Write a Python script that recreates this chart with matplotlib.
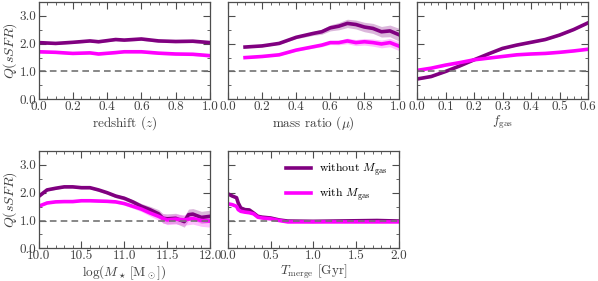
import numpy as np
import matplotlib
matplotlib.use("Agg")
import matplotlib.pyplot as plt
from matplotlib.ticker import MultipleLocator

plt.rcParams['font.family'] = 'serif'
plt.rcParams['font.serif'] = ['cmr10', 'DejaVu Serif']
plt.rcParams['mathtext.fontset'] = 'cm'
plt.rcParams['axes.formatter.use_mathtext'] = True
plt.rcParams['axes.unicode_minus'] = False

# ---------------- data ----------------
z_x = [0.0, 0.1, 0.2, 0.3, 0.35, 0.45, 0.5, 0.6, 0.7, 0.8, 0.9, 1.0]
z_without = [2.04, 2.01, 2.05, 2.10, 2.07, 2.15, 2.13, 2.17, 2.10, 2.08, 2.09, 2.04]
z_with = [1.71, 1.69, 1.65, 1.67, 1.63, 1.68, 1.71, 1.71, 1.66, 1.63, 1.62, 1.57]
z_err_without = [0.06, 0.04, 0.04, 0.04, 0.04, 0.04, 0.04, 0.05, 0.05, 0.05, 0.05, 0.06]
z_err_with = [0.06, 0.04, 0.04, 0.04, 0.04, 0.04, 0.04, 0.05, 0.05, 0.05, 0.05, 0.06]

mu_x = [0.1, 0.2, 0.3, 0.4, 0.5, 0.55, 0.6, 0.65, 0.7, 0.75, 0.8, 0.85, 0.9, 0.95, 1.0]
mu_without = [1.88, 1.92, 2.01, 2.23, 2.37, 2.43, 2.57, 2.63, 2.73, 2.69, 2.60, 2.55, 2.43, 2.46, 2.33]
mu_with = [1.50, 1.54, 1.60, 1.77, 1.89, 1.95, 2.04, 2.04, 2.10, 2.04, 2.07, 2.04, 1.99, 2.04, 1.92]
mu_err_without = [0.03, 0.03, 0.03, 0.05, 0.07, 0.09, 0.11, 0.13, 0.15, 0.16, 0.17, 0.18, 0.19, 0.21, 0.23]
mu_err_with = [0.03, 0.03, 0.03, 0.04, 0.05, 0.06, 0.07, 0.08, 0.10, 0.11, 0.12, 0.13, 0.14, 0.15, 0.16]

fg_x = [0.0, 0.05, 0.1, 0.15, 0.2, 0.25, 0.3, 0.35, 0.4, 0.45, 0.5, 0.55, 0.6]
fg_without = [0.73, 0.82, 1.00, 1.20, 1.42, 1.63, 1.83, 1.95, 2.05, 2.15, 2.31, 2.51, 2.75]
fg_with = [1.04, 1.12, 1.23, 1.32, 1.42, 1.48, 1.54, 1.60, 1.63, 1.65, 1.69, 1.74, 1.80]
fg_err_without = [0.03] * 13
fg_err_with = [0.03] * 13

m_x = [10.0, 10.1, 10.2, 10.3, 10.4, 10.5, 10.6, 10.7, 10.8, 10.9, 11.0, 11.1, 11.2,
       11.3, 11.4, 11.45, 11.5, 11.6, 11.7, 11.75, 11.8, 11.9, 12.0]
m_without = [1.86, 2.10, 2.16, 2.21, 2.21, 2.18, 2.18, 2.10, 2.00, 1.88, 1.80, 1.67, 1.51,
             1.39, 1.24, 1.08, 1.06, 1.08, 0.96, 1.21, 1.23, 1.11, 1.15]
m_with = [1.51, 1.63, 1.67, 1.68, 1.68, 1.71, 1.71, 1.70, 1.69, 1.67, 1.61, 1.51, 1.41,
          1.27, 1.15, 1.08, 1.02, 1.05, 1.02, 1.05, 1.07, 1.00, 0.98]
m_err_without = [0.05, 0.04, 0.04, 0.04, 0.04, 0.04, 0.04, 0.05, 0.05, 0.06, 0.07, 0.08, 0.10,
                 0.12, 0.15, 0.17, 0.18, 0.18, 0.20, 0.20, 0.20, 0.22, 0.22]
m_err_with = [0.04, 0.03, 0.03, 0.03, 0.03, 0.03, 0.03, 0.04, 0.04, 0.05, 0.06, 0.07, 0.09,
              0.11, 0.14, 0.16, 0.17, 0.18, 0.19, 0.20, 0.20, 0.21, 0.22]

t_x = [0.0, 0.05, 0.1, 0.12, 0.15, 0.2, 0.25, 0.3, 0.35, 0.4, 0.5, 0.6, 0.7, 1.0, 1.5, 1.75, 2.0]
t_without = [1.96, 1.88, 1.82, 1.63, 1.45, 1.39, 1.38, 1.27, 1.15, 1.12, 1.09, 1.02, 0.98, 0.97, 0.99, 1.00, 0.98]
t_with = [1.60, 1.57, 1.51, 1.39, 1.33, 1.30, 1.28, 1.24, 1.12, 1.09, 1.06, 1.00, 0.95, 0.95, 0.95, 0.95, 0.95]
t_err_without = [0.04] * 17
t_err_with = [0.03] * 17

labels = [r'without $M_{\rm gas}$', r'with $M_{\rm gas}$']

C_DARK = '#800080'
C_MAG = '#ff00ff'
BAND_DARK = '#b060b0'
BAND_MAG = '#ff70ff'

W, H = 598, 281
fig = plt.figure(figsize=(W / 100, H / 100), dpi=100)

def ax_at(x0, x1, y0, y1):
    return fig.add_axes([x0 / W, 1 - y1 / H, (x1 - x0) / W, (y1 - y0) / H])

cols = [(38.5, 210), (228, 398.5), (417, 588)]
top = (2.0, 99.3)
bot = (151.0, 248.3)

panels = [
    (cols[0], top, z_x, z_without, z_with, z_err_without, z_err_with, (0, 1), 0.2, 0.05, 'redshift ($z$)'),
    (cols[1], top, mu_x, mu_without, mu_with, mu_err_without, mu_err_with, (0, 1), 0.2, 0.05, r'mass ratio ($\mu$)'),
    (cols[2], top, fg_x, fg_without, fg_with, fg_err_without, fg_err_with, (0, 0.6), 0.1, 0.025, r'$f_{\rm gas}$'),
    (cols[0], bot, m_x, m_without, m_with, m_err_without, m_err_with, (10, 12), 0.5, 0.1, r'$\log(M_\star\,[{\rm M}_\odot])$'),
    (cols[1], bot, t_x, t_without, t_with, t_err_without, t_err_with, (0, 2), 0.5, 0.1, r'$T_{\rm merge}$ [Gyr]'),
]

for i, (cx, ry, x, yw, ym, ew, em, xlim, maj, mnr, xlabel) in enumerate(panels):
    ax = ax_at(cx[0], cx[1], ry[0], ry[1])
    x = np.array(x); yw = np.array(yw); ym = np.array(ym)
    ew = np.array(ew); em = np.array(em)
    ax.fill_between(x, yw - ew, yw + ew, color=BAND_DARK, alpha=0.45, lw=0)
    ax.fill_between(x, ym - em, ym + em, color=BAND_MAG, alpha=0.45, lw=0)
    ax.plot(x, yw, color=C_DARK, lw=2.6, label=labels[0])
    ax.plot(x, ym, color=C_MAG, lw=2.6, label=labels[1])
    ax.axhline(1.0, color='0.45', ls='--', lw=1.2, dashes=(4, 2.5))
    ax.set_xlim(*xlim)
    ax.set_ylim(0, 3.5)
    ax.xaxis.set_major_locator(MultipleLocator(maj))
    ax.xaxis.set_minor_locator(MultipleLocator(mnr))
    ax.yaxis.set_major_locator(MultipleLocator(1.0))
    ax.yaxis.set_minor_locator(MultipleLocator(0.5))
    ax.xaxis.set_major_formatter(matplotlib.ticker.FormatStrFormatter('%.1f'))
    ax.yaxis.set_major_formatter(matplotlib.ticker.FormatStrFormatter('%.1f'))
    ax.tick_params(which='both', direction='in', top=True, right=True,
                   colors='0.3', labelcolor='0.25', labelsize=9.5, pad=1.5)
    ax.tick_params(which='major', length=5, width=0.8)
    ax.tick_params(which='minor', length=2.5, width=0.6)
    for s in ax.spines.values():
        s.set_color('0.3')
        s.set_linewidth(0.9)
    ax.set_xlabel(xlabel, fontsize=9.5, color='0.25', labelpad=0.5)
    if i in (0, 3):
        ax.set_ylabel(r'$Q(sSFR)$', fontsize=10, color='0.25', labelpad=0.5)
    else:
        ax.tick_params(labelleft=False)
    if i == 4:
        ax.legend(loc='upper right', frameon=False, fontsize=8.5,
                  handlelength=2.1, borderaxespad=0.5, labelspacing=0.7,
                  handletextpad=0.7)

fig.savefig('out.png', dpi=100)
